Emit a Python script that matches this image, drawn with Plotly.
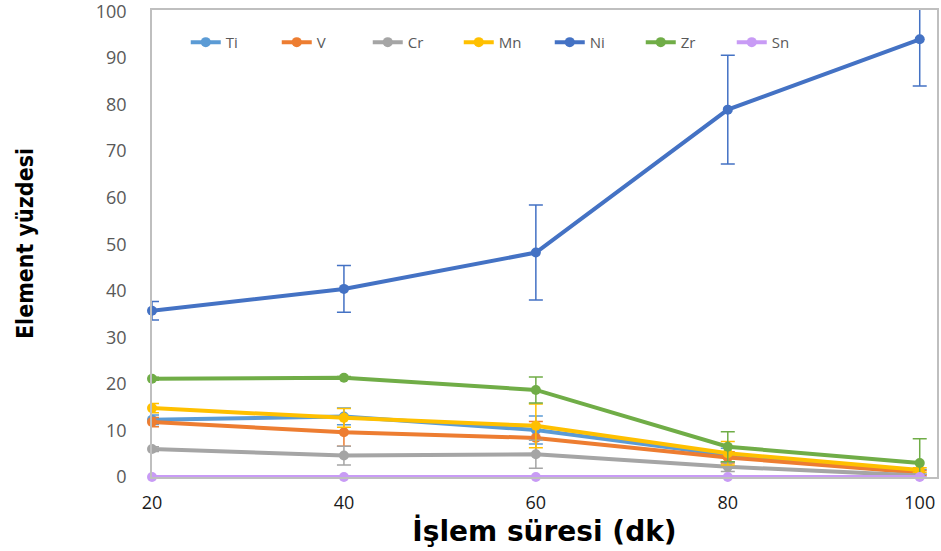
import plotly.graph_objects as go

x_vals = [20, 40, 60, 80, 100]
y_ticks = [0, 10, 20, 30, 40, 50, 60, 70, 80, 90, 100]
series_names = ["Ti", "V", "Cr", "Mn", "Ni", "Zr", "Sn"]
ti = [12.3, 13.0, 10.1, 4.7, 1.1]
v = [11.8, 9.6, 8.4, 4.2, 0.9]
cr = [6.0, 4.6, 4.9, 2.2, 0.3]
mn = [14.8, 12.7, 11.0, 5.1, 1.5]
ni = [35.7, 40.4, 48.2, 78.9, 94.0]
zr = [21.1, 21.3, 18.7, 6.5, 3.0]
sn = [0.0, 0.0, 0.0, 0.0, 0.0]

ti_err = [1.0, 1.8, 3.0, 1.5, 0.5]
v_err = [1.0, 3.0, 3.5, 1.2, 0.5]
cr_err = [0.5, 2.0, 3.0, 1.0, 0.3]
mn_err = [1.0, 2.0, 4.7, 2.5, 0.5]
ni_err = [2.0, 5.0, 10.2, 11.7, 10.0]
zr_err = [0.3, 0.3, 2.8, 3.2, 5.2]
sn_err = [0, 0, 0, 0, 0]

values = [ti, v, cr, mn, ni, zr, sn]
errors = [ti_err, v_err, cr_err, mn_err, ni_err, zr_err, sn_err]
colors = ["#5B9BD5", "#ED7D31", "#A5A5A5", "#FFC000", "#4472C4", "#70AD47", "#C89BF5"]

fig = go.Figure()
for name, yv, ev, c in zip(series_names, values, errors, colors):
    fig.add_trace(go.Scatter(
        x=x_vals, y=yv, name=name, mode="lines+markers",
        line=dict(color=c, width=4),
        marker=dict(color=c, size=10),
        error_y=dict(type="data", array=ev, visible=True, color=c, thickness=1.5, width=7),
        cliponaxis=False,
    ))

fig.update_layout(
    width=941, height=551,
    margin=dict(l=152, r=4, t=10, b=74),
    plot_bgcolor="white", paper_bgcolor="white",
    font=dict(family="Open Sans, sans-serif"),
    showlegend=True,
    legend=dict(orientation="h", x=0.043, y=0.966, xanchor="left", yanchor="top",
                font=dict(size=15, color="#595959"), bgcolor="rgba(0,0,0,0)",
                entrywidth=46, entrywidthmode="pixels", tracegroupgap=0),
)
fig.update_xaxes(
    range=[20, 101.8], tickvals=x_vals, ticktext=[str(t) for t in x_vals],
    showgrid=False, zeroline=False, showline=True, linecolor="#BFBFBF", linewidth=1.5, mirror=True,
    ticks="", ticklabelstandoff=9, automargin=False,
    tickfont=dict(size=18, color="#1a1a1a"),
    title=dict(text="<b>İşlem süresi (dk)</b>", font=dict(size=28, color="black", family="DejaVu Sans, sans-serif"), standoff=4),
)
fig.update_yaxes(
    range=[0, 100.3], tickvals=y_ticks, ticktext=[str(t) for t in y_ticks],
    showgrid=False, zeroline=False, showline=True, linecolor="#BFBFBF", linewidth=1.5, mirror=True,
    ticks="", ticklabelstandoff=20, automargin=False, ticklabeloverflow="allow",
    tickfont=dict(size=18, color="#595959"),
    title=dict(text="<b>Element yüzdesi</b>", font=dict(size=23, color="black", family="DejaVu Sans Condensed, Liberation Sans Narrow, sans-serif"), standoff=56),
)

fig.write_html("out.html", config={"displayModeBar": False},
               post_script="document.body.style.margin='0';")
